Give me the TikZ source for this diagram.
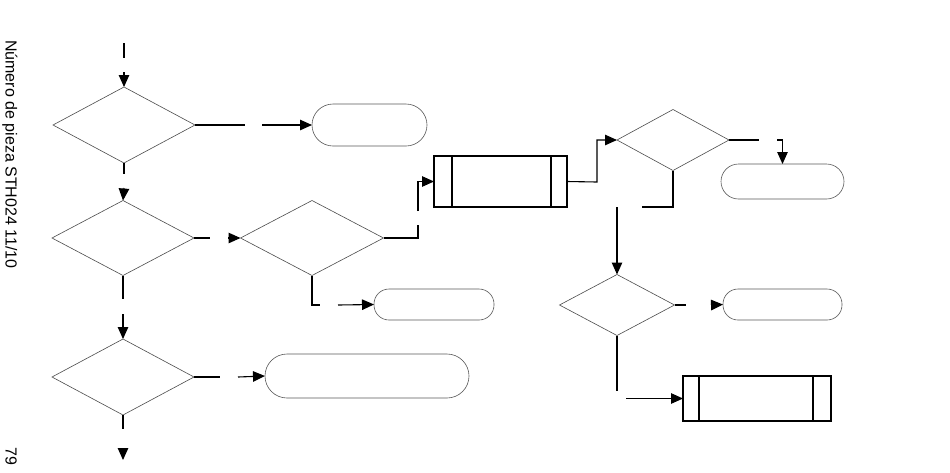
\documentclass[tikz,border=0pt]{standalone}
\usepackage{fontspec}
\setmainfont{Liberation Sans}
\usetikzlibrary{arrows.meta,shapes.geometric}
\tikzset{
  dec/.style={shape=diamond, draw=black!70, line width=0.6pt, inner sep=0pt, outer sep=0pt},
  term/.style={shape=rectangle, draw=black!65, line width=0.6pt, inner sep=0pt, outer sep=0pt, rounded corners=15pt},
  proc/.style={shape=rectangle, draw=black, line width=1.1pt, inner sep=0pt, outer sep=0pt},
  conn/.style={draw=black, line width=1.1pt},
  arr/.style={conn, -{Triangle[length=12pt,width=10.5pt]}},
  sidetext/.style={font=\fontsize{16}{19}\selectfont, rotate=-90, anchor=base west, inner sep=0pt}
}
\begin{document}
\begin{tikzpicture}[x=1pt,y=-1pt]
\useasboundingbox (0,0) rectangle (950,472);
\fill[white] (0,0) rectangle (950,472);

% side texts
\node[sidetext] (hdr) at (5.5,40) {Número de pieza STH024 11/10};
\node[sidetext] (pg) at (5.5,447) {79};

% decisions
\node[dec, minimum width=142pt, minimum height=76pt] (D1) at (124,125) {};
\node[dec, minimum width=142pt, minimum height=75pt] (D2) at (123,238) {};
\node[dec, minimum width=143pt, minimum height=75pt] (D3) at (312,238) {};
\node[dec, minimum width=142pt, minimum height=76pt] (D4) at (123,377) {};
\node[dec, minimum width=112pt, minimum height=61pt] (D5) at (673,140) {};
\node[dec, minimum width=115pt, minimum height=61pt] (D6) at (617,305) {};

% terminators
\node[term, minimum width=115pt, minimum height=42pt, rounded corners=21pt] (T1) at (369.5,125) {};
\node[term, minimum width=120pt, minimum height=31pt] (T2) at (434,304.5) {};
\node[term, minimum width=204pt, minimum height=44pt, rounded corners=22pt] (T3) at (367,376) {};
\node[term, minimum width=123pt, minimum height=35pt, rounded corners=17.5pt] (T4) at (782.5,181.5) {};
\node[term, minimum width=119pt, minimum height=31pt] (T5) at (782.5,304.5) {};

% processes
\node[proc, minimum width=133pt, minimum height=51pt] (P1) at (500.5,181.5) {};
\draw[line width=1.1pt] ([xshift=18pt]P1.north west) -- ([xshift=18pt]P1.south west)
  ([xshift=-16pt]P1.north east) -- ([xshift=-16pt]P1.south east);
\node[proc, minimum width=148pt, minimum height=45pt] (P2) at (757,398.5) {};
\draw[line width=1.1pt] ([xshift=16pt]P2.north west) -- ([xshift=16pt]P2.south west)
  ([xshift=-18pt]P2.north east) -- ([xshift=-18pt]P2.south east);

% free ends
\coordinate (s0) at (124,43); \coordinate (s1) at (124,58); \coordinate (s2) at (124,72);
\coordinate (a1) at (245,125); \coordinate (a2) at (262,125);
\coordinate (b1) at (124,174); \coordinate (b2) at (124,188);
\coordinate (c1) at (210,238); \coordinate (c2) at (228,238);
\coordinate (d1) at (418,225); \coordinate (d2) at (418,211);
\coordinate (e1) at (320,305); \coordinate (e2) at (338,305);
\coordinate (f1) at (123,299); \coordinate (f2) at (123,314);
\coordinate (g1) at (220,377); \coordinate (g2) at (238,377);
\coordinate (h1) at (123,429); \coordinate (h2) at (123,448); \coordinate (h3) at (123,460);
\coordinate (i1) at (597,182);
\coordinate (j1) at (759,140); \coordinate (j2) at (777,140);
\coordinate (k1) at (642,207); \coordinate (k2) at (617,207);
\coordinate (l1) at (686,305); \coordinate (l2) at (711,305);
\coordinate (m1) at (617,391); \coordinate (m2) at (626,398.5);

% connectors
\draw[conn] (s0) -- (s1);
\draw[arr] (s2) -- (D1.north);
\draw[conn] (D1.east) -- (a1);
\draw[arr] (a2) -- (T1.west);
\draw[conn] (D1.south) -- (b1);
\draw[arr] (b2) -- (D2.north);
\draw[conn] (D2.east) -- (c1);
\draw[arr] (c2) -- (D3.west);
\draw[conn] (D3.east) -| (d1);
\draw[arr] (d2) |- (P1.west);
\draw[conn] (D3.south) |- (e1);
\draw[arr] (e2) -- (T2.west);
\draw[conn] (D2.south) -- (f1);
\draw[arr] (f2) -- (D4.north);
\draw[conn] (D4.east) -- (g1);
\draw[arr] (g2) -- (T3.west);
\draw[conn] (D4.south) -- (h1);
\draw[arr] (h2) -- (h3);
\draw[arr] (P1.east) -- (i1) |- (D5.west);
\draw[conn] (D5.east) -- (j1);
\draw[arr] (j2) -| (T4.north);
\draw[conn] (D5.south) |- (k1);
\draw[arr] (k2) -- (D6.north);
\draw[conn] (D6.east) -- (l1);
\draw[arr] (l2) -- (T5.west);
\draw[conn] (D6.south) -- (m1);
\draw[arr] (m2) -- (P2.west);
\end{tikzpicture}
\end{document}
